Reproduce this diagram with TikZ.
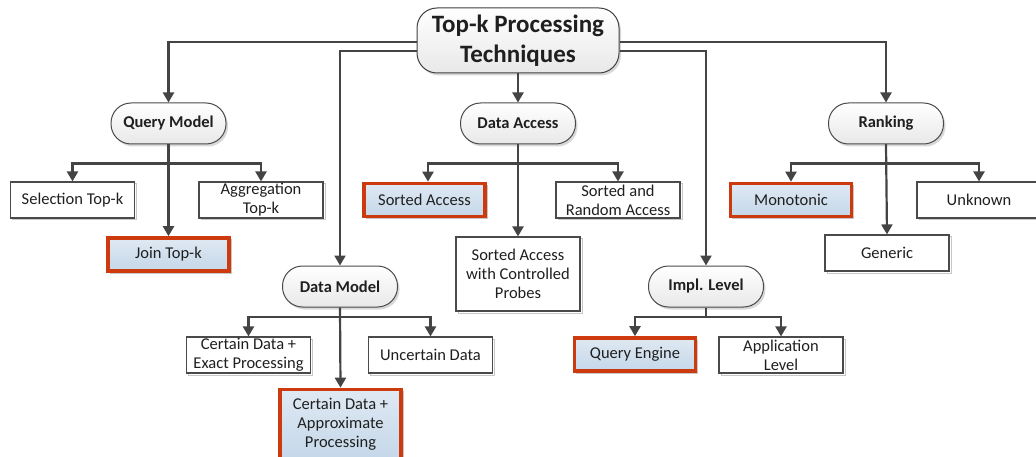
\documentclass[tikz,border=0pt]{standalone}
\usepackage{fontspec}
\setmainfont{Carlito}
\usetikzlibrary{arrows.meta,shadows}
\definecolor{linegray}{HTML}{444444}
\definecolor{boxline}{HTML}{4A4A4A}
\definecolor{hired}{HTML}{CC3A0E}
\definecolor{hiblueA}{HTML}{DFE9F3}
\definecolor{hiblueB}{HTML}{C4D7E9}

\begin{document}
\begin{tikzpicture}[x=1pt,y=-1pt,
  every node/.style={text=black!88},
  conn/.style={draw=linegray, line width=2.2pt, -{Triangle[width=11pt,length=10pt]}},
  catbox/.style={rounded corners=20pt, draw=boxline, line width=1pt,
    top color=white, bottom color=black!9,
    minimum width=115pt, minimum height=41pt, inner sep=0pt,
    font=\fontsize{16.5}{19}\selectfont\bfseries,
    drop shadow={shadow xshift=2pt, shadow yshift=-2.5pt, fill=black!30}},
  leafbox/.style={rectangle, draw=boxline, line width=1.1pt, fill=white,
    minimum width=124pt, minimum height=36pt, inner sep=0pt, align=center,
    font=\fontsize{16.5}{19}\selectfont,
    preaction={draw=black!22, line width=1pt, transform canvas={xshift=2pt, yshift=-2pt}}},
  pickbox/.style={leafbox, draw=hired, line width=3.6pt,
    top color=hiblueA, bottom color=hiblueB, minimum width=121pt}
]
\useasboundingbox (0,0) rectangle (1036,457);
\clip (0,0) rectangle (1036,457);

% root
\node[catbox, rounded corners=20pt, minimum width=202pt, minimum height=65pt,
      align=center, font=\fontsize{25}{30}\selectfont\bfseries,
      draw=black!75] (root) at (518,40.5) {Top-k Processing\\Techniques};

% categories
\node[catbox] (qm) at (168.5,123.5) {Query Model};
\node[catbox] (da) at (518,123.5) {Data Access};
\node[catbox] (rk) at (886,123.5) {Ranking};
\node[catbox] (dm) at (340,286.5) {Data Model};
\node[catbox] (il) at (706,286.5) {Impl. Level};

% query model
\node[leafbox] (sel) at (72.5,200) {Selection Top-k};
\node[leafbox] (agg) at (261,200) {Aggregation\\Top-k};
\node[pickbox, minimum height=33pt] (join) at (168.5,254.5) {Join Top-k};

% data access
\node[pickbox, minimum height=33pt] (sa) at (424.5,200) {Sorted Access};
\node[leafbox] (sra) at (618,200) {Sorted and\\Random Access};
\node[leafbox, minimum height=74pt] (sacp) at (518,274) {Sorted Access\\with Controlled\\Probes};

% ranking
\node[pickbox, minimum height=33pt] (mono) at (791,200) {Monotonic};
\node[leafbox] (unk) at (979,200) {Unknown};
\node[leafbox] (gen) at (887,253) {Generic};

% data model
\node[leafbox] (cdep) at (248.5,355) {Certain Data +\\Exact Processing};
\node[leafbox] (ud) at (430.5,355) {Uncertain Data};
\node[pickbox, minimum height=70pt] (cdap) at (340.5,424.5) {Certain Data +\\Approximate\\Processing};

% implementation level
\node[pickbox, minimum height=33pt] (qe) at (635,354.5) {Query Engine};
\node[leafbox] (al) at (781,355) {Application\\Level};

% root connectors
\draw[conn] ([yshift=-1.5pt]root.west) -| (qm.north);
\draw[conn] ([yshift=-10.5pt]root.west) -| (dm.north);
\draw[conn] (root.south) -- (da.north);
\draw[conn] ([yshift=-1.5pt]root.east) -| (rk.north);
\draw[conn] ([yshift=-10.5pt]root.east) -| (il.north);

% query model branches
\draw[conn] (qm.south) -- ++(0,19) -| (sel.north);
\draw[conn] (qm.south) -- ++(0,19) -| (agg.north);
\draw[conn] (qm.south) -- (join.north);

% data access branches
\draw[conn] (da.south) -- ++(0,19) -| ([xshift=3.5pt]sa.north);
\draw[conn] (da.south) -- ++(0,19) -| (sra.north);
\draw[conn] (da.south) -- (sacp.north);

% ranking branches
\draw[conn] (rk.south) -- ++(0,19) -| (mono.north);
\draw[conn] (rk.south) -- ++(0,19) -| (unk.north);
\draw[conn] (rk.south) -- (gen.north);

% data model branches
\draw[conn] (dm.south) -- ++(0,9.5) -| (cdep.north);
\draw[conn] (dm.south) -- ++(0,9.5) -| (ud.north);
\draw[conn] (dm.south) -- (cdap.north);

% implementation level branches
\draw[conn] (il.south) -- ++(0,9.5) -| (qe.north);
\draw[conn] (il.south) -- ++(0,9.5) -| (al.north);
\end{tikzpicture}
\end{document}
